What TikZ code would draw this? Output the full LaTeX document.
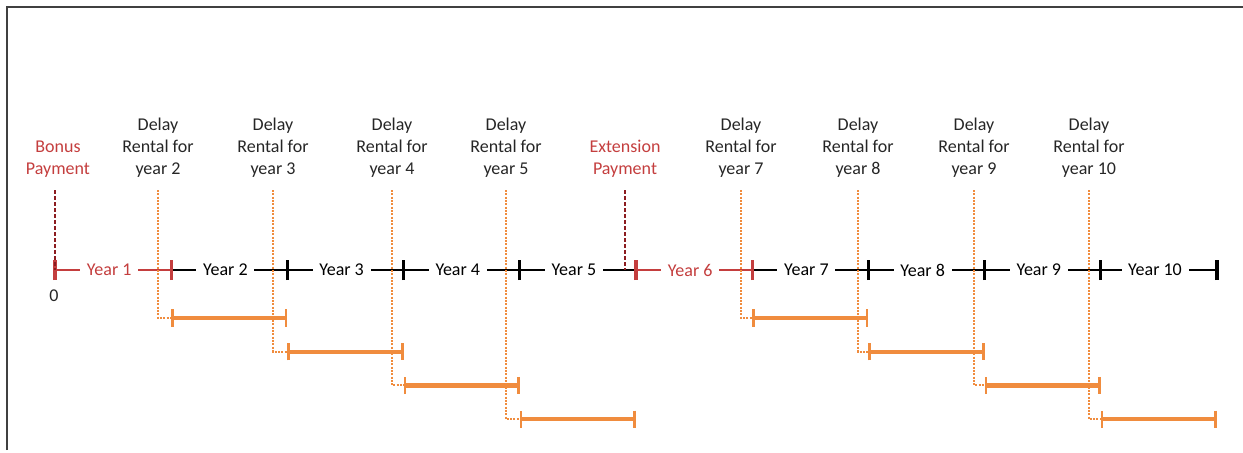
\documentclass[tikz,border=0pt]{standalone}
\usepackage{fontspec}
\setmainfont{Carlito}
\usetikzlibrary{arrows.meta}

\definecolor{payred}{RGB}{196,62,62}
\definecolor{darkred}{RGB}{140,28,32}
\definecolor{rentorange}{RGB}{240,140,62}

\begin{document}
\begin{tikzpicture}[x=0.75pt, y=-0.75pt,
	lbl/.style={align=center, font=\fontsize{13.5}{16.5}\selectfont, text=black!85},
	yearlbl/.style={fill=white, inner xsep=5pt, inner ysep=1pt, font=\fontsize{13.5}{15}\selectfont},
	axisline/.style={line width=2.2pt},
	axistick/.style={line width=2.4pt},
	paydash/.style={darkred, dashed, line width=1.4pt, dash pattern=on 3pt off 1.5pt},
	rentdot/.style={rentorange, densely dotted, line width=1.5pt},
	rentbar/.style={rentorange, line width=3.2pt, {Bar[width=13pt,line width=2pt]}-{Bar[width=13pt,line width=2pt]}}]
	
	\useasboundingbox (0,0) rectangle (1243,453);
	
	% Frame
	\draw[line width=1.5pt, black!75] (7,450) -- (7,7) -- (1243,7);
	
	% Ticks on the time line
	\foreach \i in {0,...,10}
		\coordinate (t\i) at ({55+116.2*\i},270);
	
	% Time line
	\draw[axisline, payred] (t0) -- (t1);
	\draw[axisline] (t1) -- (t5);
	\draw[axisline, payred] (t5) -- (t6);
	\draw[axisline] (t6) -- (t10);
	
	\foreach \i/\c in {0/payred,1/payred,2/black,3/black,4/black,5/payred,6/payred,7/black,8/black,9/black,10/black}
		\draw[axistick, \c] ([yshift=-7.5pt]t\i) -- ([yshift=7.5pt]t\i);
	
	% Year labels
	\foreach \i/\c in {1/payred,2/black,3/black,4/black,5/black,6/payred,7/black,8/black,9/black,10/black}
		\node[yearlbl, text=\c] (year\i) at ({55+116.2*\i-62},270) {Year \i};
	
	\node[lbl] (zero) at (54,296) {0};
	
	% Payments
	\node[lbl, text=payred] (bonus) at (58,159) {Bonus\\Payment};
	\node[lbl, text=payred] (extension) at (625,159) {Extension\\Payment};
	\coordinate (bonustop) at (55,190);
	\coordinate (extensiontop) at (625,190);
	\coordinate (extensionend) at (625,270);
	\draw[paydash] (bonustop) -- (t0);
	\draw[paydash] (extensiontop) -- (extensionend);
	
	% Delay rentals
	\foreach \k/\x/\a/\b/\r in {2/158/1/2/0,3/273/2/3/1,4/392/3/4/2,5/506/4/5/3,
		7/741/6/7/0,8/858/7/8/1,9/974/8/9/2,10/1089/9/10/3}
	{
		\node[lbl] (delay\k) at (\x,148) {Delay\\Rental for\\year \k};
		\coordinate (dtop\k) at (\x,190);
		\coordinate (bs\k) at ([yshift=-{(36+25.3*\r)*1pt}]t\a);
		\coordinate (be\k) at ([yshift=-{(36+25.3*\r)*1pt}]t\b);
		\draw[rentdot] (dtop\k) |- (bs\k);
		\draw[rentbar] (bs\k) -- (be\k);
	}
	
\end{tikzpicture}
\end{document}
